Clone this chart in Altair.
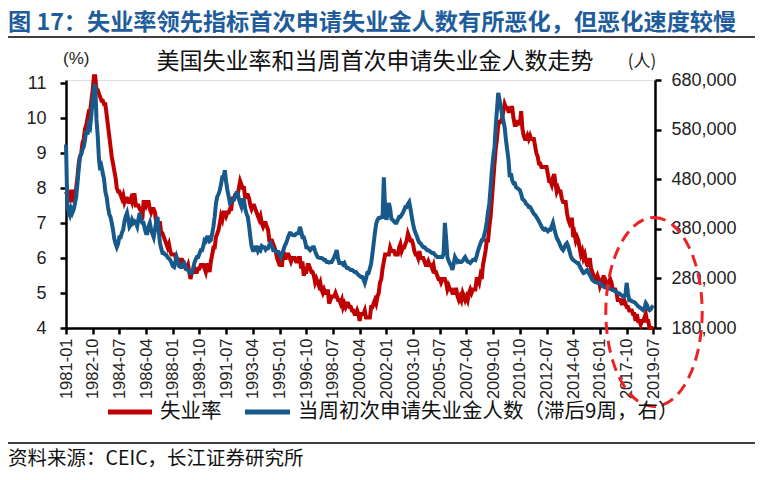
import altair as alt
import pandas as pd

# ---------------- data ----------------
series_names = ["失业率", "当周初次申请失业金人数（滞后9周，右）"]
series_colors = ["#C00000", "#17598A"]

x_ticks = ["1981-01", "1982-10", "1984-07", "1986-04", "1988-01", "1989-10",
           "1991-07", "1993-04", "1995-01", "1996-10", "1998-07", "2000-04",
           "2002-01", "2003-10", "2005-07", "2007-04", "2009-01", "2010-10",
           "2012-07", "2014-04", "2016-01", "2017-10", "2019-07"]
left_ticks = [4, 5, 6, 7, 8, 9, 10, 11]
right_ticks = [180000, 280000, 380000, 480000, 580000, 680000]

# monthly unemployment rate (%), 1981-01 .. 2019-07
unemp = [
    7.9, 7.8, 7.8, 7.6, 7.9, 7.9, 7.6, 7.8, 8.0, 8.3, 8.7, 8.9,
    9.0, 9.3, 9.4, 9.7, 9.8, 10.0, 10.2, 10.2, 10.5, 10.8, 11.2, 11.2,
    10.8, 10.8, 10.7, 10.6, 10.5, 10.5, 10.4, 10.4, 10.1, 9.8, 9.5, 9.2,
    8.9, 8.7, 8.5, 8.3, 8.0, 7.9, 7.9, 7.8, 7.7, 7.8, 7.6, 7.7,
    7.7, 7.6, 7.6, 7.7, 7.6, 7.8, 7.8, 7.5, 7.5, 7.5, 7.4, 7.4,
    7.1, 7.6, 7.6, 7.5, 7.6, 7.6, 7.4, 7.3, 7.4, 7.4, 7.3, 7.0,
    7.0, 7.0, 7.0, 6.7, 6.7, 6.6, 6.5, 6.4, 6.3, 6.4, 6.2, 6.1,
    6.1, 6.1, 6.1, 5.8, 6.0, 5.8, 5.8, 6.0, 5.8, 5.8, 5.7, 5.7,
    5.8, 5.6, 5.4, 5.6, 5.6, 5.7, 5.6, 5.6, 5.7, 5.7, 5.8, 5.8,
    5.8, 5.7, 5.6, 5.8, 5.8, 5.6, 5.9, 6.1, 6.3, 6.3, 6.6, 6.7,
    6.8, 7.0, 7.2, 7.1, 7.3, 7.3, 7.2, 7.3, 7.3, 7.4, 7.4, 7.7,
    7.7, 7.8, 7.8, 7.8, 8.0, 8.2, 8.1, 8.0, 8.0, 7.7, 7.8, 7.8,
    7.7, 7.5, 7.4, 7.5, 7.5, 7.4, 7.3, 7.2, 7.1, 7.2, 7.0, 6.9,
    7.0, 7.0, 6.9, 6.8, 6.5, 6.5, 6.5, 6.4, 6.3, 6.2, 6.0, 5.9,
    6.0, 5.8, 5.8, 6.2, 6.0, 6.0, 6.1, 6.1, 6.0, 5.9, 6.0, 6.0,
    6.0, 5.9, 5.9, 6.0, 6.0, 5.7, 5.9, 5.5, 5.6, 5.6, 5.8, 5.8,
    5.7, 5.6, 5.6, 5.5, 5.3, 5.4, 5.3, 5.2, 5.3, 5.1, 5.0, 5.1,
    5.0, 5.0, 5.1, 4.7, 4.8, 4.9, 4.9, 4.9, 5.0, 4.9, 4.8, 4.8,
    4.7, 4.8, 4.6, 4.7, 4.6, 4.7, 4.7, 4.6, 4.6, 4.5, 4.5, 4.4,
    4.4, 4.5, 4.4, 4.2, 4.4, 4.4, 4.4, 4.5, 4.3, 4.3, 4.3, 4.3,
    4.6, 4.6, 4.7, 4.8, 4.7, 4.9, 5.0, 5.3, 5.4, 5.7, 5.9, 6.1,
    6.1, 6.1, 6.1, 6.3, 6.2, 6.2, 6.2, 6.1, 6.1, 6.1, 6.3, 6.4,
    6.2, 6.3, 6.3, 6.4, 6.5, 6.7, 6.6, 6.5, 6.5, 6.4, 6.2, 6.1,
    6.1, 6.0, 6.2, 6.0, 6.0, 6.0, 5.9, 5.8, 5.8, 5.9, 5.8, 5.8,
    5.7, 5.8, 5.6, 5.6, 5.5, 5.4, 5.4, 5.3, 5.4, 5.4, 5.4, 5.3,
    5.1, 5.2, 5.1, 5.1, 5.0, 5.0, 5.1, 5.1, 4.9, 4.8, 4.9, 4.8,
    5.0, 4.9, 4.8, 4.9, 4.8, 5.0, 5.1, 5.0, 5.1, 5.1, 5.1, 5.4,
    5.4, 5.3, 5.5, 5.4, 5.8, 6.0, 6.2, 6.5, 6.5, 6.9, 7.2, 7.7,
    8.2, 8.7, 9.1, 9.4, 9.8, 9.9, 9.9, 10.0, 10.2, 10.4, 10.3, 10.3,
    10.2, 10.2, 10.3, 10.3, 10.0, 9.8, 9.8, 9.9, 9.9, 9.8, 10.2, 9.7,
    9.5, 9.4, 9.4, 9.5, 9.4, 9.5, 9.4, 9.4, 9.4, 9.2, 9.0, 8.9,
    8.7, 8.7, 8.6, 8.6, 8.6, 8.6, 8.6, 8.4, 8.2, 8.2, 8.1, 8.3,
    8.4, 8.1, 7.9, 8.0, 7.9, 7.9, 7.7, 7.6, 7.6, 7.6, 7.3, 7.1,
    7.0, 7.1, 7.1, 6.6, 6.7, 6.5, 6.6, 6.5, 6.3, 6.1, 6.2, 6.0,
    6.1, 5.9, 5.8, 5.8, 6.0, 5.7, 5.6, 5.5, 5.4, 5.4, 5.5, 5.4,
    5.2, 5.3, 5.4, 5.5, 5.2, 5.3, 5.2, 5.3, 5.4, 5.3, 5.1, 5.1,
    5.1, 5.0, 4.8, 4.8, 4.8, 4.7, 4.7, 4.8, 4.7, 4.6, 4.6, 4.5,
    4.5, 4.5, 4.4, 4.4, 4.2, 4.4, 4.2, 4.2, 4.1, 4.2, 4.2, 4.3,
    4.4, 4.2, 4.2, 4.0, 4.0, 4.0, 4.0,
]

# initial jobless claims (thousands, lagged 9 weeks), 1981-01 .. 2019-07
claims_k = [
    550, 430, 415, 408, 420, 412, 418, 430, 444, 470, 500, 525,
    530, 540, 545, 560, 578, 570, 590, 585, 610, 640, 660, 672,
    600, 565, 520, 498, 505, 492, 480, 455, 444, 425, 410, 404,
    392, 378, 360, 350, 343, 350, 363, 363, 372, 378, 395, 405,
    412, 398, 384, 388, 398, 392, 395, 392, 385, 400, 412, 398,
    392, 392, 380, 371, 371, 385, 392, 378, 370, 363, 378, 395,
    404, 375, 351, 340, 331, 331, 328, 327, 322, 320, 317, 312,
    305, 303, 312, 323, 315, 305, 303, 303, 308, 311, 305, 298,
    297, 292, 291, 291, 300, 311, 318, 323, 323, 330, 337, 337,
    345, 357, 355, 363, 363, 355, 357, 370, 385, 405, 432, 445,
    450, 458, 470, 484, 484, 498, 475, 458, 445, 432, 435, 438,
    438, 445, 452, 452, 440, 432, 425, 438, 438, 420, 410, 404,
    385, 363, 345, 337, 337, 343, 343, 335, 340, 337, 345, 343,
    343, 338, 341, 341, 348, 351, 345, 337, 337, 335, 333, 333,
    328, 323, 330, 337, 345, 350, 357, 365, 371, 371, 368, 367,
    367, 370, 371, 371, 384, 375, 363, 363, 355, 343, 343, 340,
    337, 340, 343, 343, 335, 328, 323, 322, 321, 321, 320, 317,
    317, 313, 313, 312, 313, 313, 318, 323, 330, 337, 320, 311,
    311, 311, 308, 311, 305, 301, 301, 299, 297, 297, 295, 293,
    293, 290, 287, 285, 283, 283, 278, 271, 280, 291, 291, 300,
    310, 330, 350, 372, 390, 398, 402, 402, 404, 404, 484, 420,
    398, 410, 432, 420, 400, 398, 395, 392, 392, 398, 404, 404,
    408, 412, 418, 424, 424, 430, 434, 420, 404, 390, 378, 371,
    365, 357, 352, 350, 346, 343, 343, 340, 337, 337, 335, 333,
    331, 331, 328, 326, 323, 323, 323, 323, 323, 330, 392, 360,
    323, 315, 310, 305, 297, 310, 323, 318, 313, 315, 313, 313,
    315, 320, 323, 318, 314, 313, 311, 314, 317, 318, 317, 325,
    335, 343, 350, 357, 357, 368, 378, 395, 415, 432, 465, 498,
    525, 545, 585, 620, 654, 640, 626, 610, 598, 585, 560, 540,
    520, 484, 492, 478, 472, 472, 464, 462, 460, 458, 450, 440,
    438, 435, 430, 428, 424, 424, 420, 415, 410, 408, 404, 400,
    395, 390, 385, 380, 378, 380, 378, 375, 378, 378, 385, 392,
    380, 370, 362, 357, 352, 345, 340, 337, 342, 348, 351, 345,
    335, 325, 320, 317, 315, 313, 311, 311, 305, 300, 295, 291,
    292, 295, 297, 292, 287, 282, 277, 275, 273, 272, 271, 271,
    270, 268, 266, 263, 262, 263, 261, 260, 259, 258, 257, 256,
    254, 252, 251, 250, 248, 246, 244, 243, 248, 271, 250, 236,
    236, 234, 233, 232, 230, 227, 224, 222, 220, 218, 216, 220,
    230, 226, 218, 216, 218, 222, 220,
]

main_title = "图 17：失业率领先指标首次申请失业金人数有所恶化，但恶化速度较慢"
inner_title = "美国失业率和当周首次申请失业金人数走势"
source_text = "资料来源：CEIC，长江证券研究所"

# ---------------- build tables ----------------
months = pd.date_range("1981-01-01", periods=len(unemp), freq="MS")
red_df = pd.DataFrame({"date": months.strftime("%Y-%m-%dT00:00:00"), "v": unemp})
months_b = pd.date_range("1981-01-01", periods=len(claims_k), freq="MS")
blue_df = pd.DataFrame({"date": months_b.strftime("%Y-%m-%dT00:00:00"),
                        "v": [c * 1000 for c in claims_k]})

tick_dates = [alt.DateTime(year=int(s[:4]), month=int(s[5:7]), date=1) for s in x_ticks]

CJK = "Noto Sans CJK SC"
LAT = "Liberation Sans"
AXC = "#000000"

x_enc = alt.X(
    "date:T",
    scale=alt.Scale(domain=[alt.DateTime(year=1981, month=1, date=1),
                            alt.DateTime(year=2019, month=8, date=10)]),
    axis=alt.Axis(values=tick_dates, format="%Y-%m", labelAngle=270,
                  labelFont=LAT, labelFontSize=16.5, labelColor="#222",
                  labelPadding=4, labelOverlap=False, tickSize=6,
                  tickWidth=2.5, tickColor=AXC, domainColor=AXC,
                  domainWidth=2.5, grid=False, title=None),
)

red = alt.Chart(red_df).mark_line(
    color=series_colors[0], strokeWidth=4, clip=False
).encode(
    x=x_enc,
    y=alt.Y("v:Q",
            scale=alt.Scale(domain=[4, 11.09], nice=False, zero=False),
            axis=alt.Axis(values=left_ticks, orient="left", labelFont=LAT,
                          labelFontSize=18, labelColor="#222", labelPadding=14,
                          tickSize=6, tickWidth=2.5, tickColor=AXC,
                          domainColor=AXC, domainWidth=2.5, grid=False,
                          title=None)),
)

blue = alt.Chart(blue_df).mark_line(
    color=series_colors[1], strokeWidth=4, clip=False
).encode(
    x=x_enc,
    y=alt.Y("v:Q",
            scale=alt.Scale(domain=[180000, 680000], nice=False, zero=False),
            axis=alt.Axis(values=right_ticks, orient="right", format=",.0f",
                          labelFont=LAT, labelFontSize=18, labelColor="#222",
                          labelPadding=10, tickSize=6, tickWidth=2.5,
                          tickColor=AXC, domainColor=AXC, domainWidth=2.5,
                          grid=False, title=None)),
)

one = pd.DataFrame({"k": [0]})


def txt(text, x, y, size, font=CJK, align="left", color="#111", weight="normal"):
    return alt.Chart(one).mark_text(
        text=text, align=align, baseline="middle", font=font, fontSize=size,
        color=color, fontWeight=weight
    ).encode(x=alt.value(x), y=alt.value(y))


def hline(x1, x2, y, color="#000", width=1.5):
    return alt.Chart(one).mark_rule(color=color, strokeWidth=width).encode(
        x=alt.value(x1), x2=alt.value(x2), y=alt.value(y))


t_main = txt(main_title, -58, -57, 23.2, color="#1E5C9B", weight="bold")
line_top = hline(-58, 700, -43)
t_inner = txt(inner_title, 309, -18, 23, align="center", color="#111")
t_pct = txt("(%)", -3, -21, 17, font=LAT, color="#222")
t_ren = txt("(人)", 576, -18, 17, align="center", color="#222")

leg_red = hline(42, 86, 332, color=series_colors[0], width=5)
leg_red_t = txt(series_names[0], 94, 332, 20.5)
leg_blue = hline(179, 224, 332, color=series_colors[1], width=5)
leg_blue_t = txt(series_names[1], 232, 332, 20.5)

line_bot = hline(-58, 700, 363)
t_src = txt(source_text, -58, 379, 19.5)

ellipse_path = ("M0,-1 C0.2817,-1 0.51,-0.5523 0.51,0 "
                "C0.51,0.5523 0.2817,1 0,1 "
                "C-0.2817,1 -0.51,0.5523 -0.51,0 "
                "C-0.51,-0.5523 -0.2817,-1 0,-1 Z")
ellipse = alt.Chart(one).mark_point(
    shape=ellipse_path, size=35700, filled=False, stroke="#EE2222",
    strokeWidth=3, strokeDash=[12, 7], opacity=1, clip=False
).encode(x=alt.value(588), y=alt.value(232))

chart = alt.layer(
    red, blue, ellipse, t_main, line_top, t_inner, t_pct, t_ren,
    leg_red, leg_red_t, leg_blue, leg_blue_t, line_bot, t_src
).resolve_scale(y="independent").properties(
    width=589, height=248,
    autosize=alt.AutoSizeParams(type="none"),
    padding={"left": 58, "top": 72, "right": 100, "bottom": 144},
).configure_view(stroke=None).configure(background="white")

chart.save("out.html", embed_options={"renderer": "svg", "actions": False})
